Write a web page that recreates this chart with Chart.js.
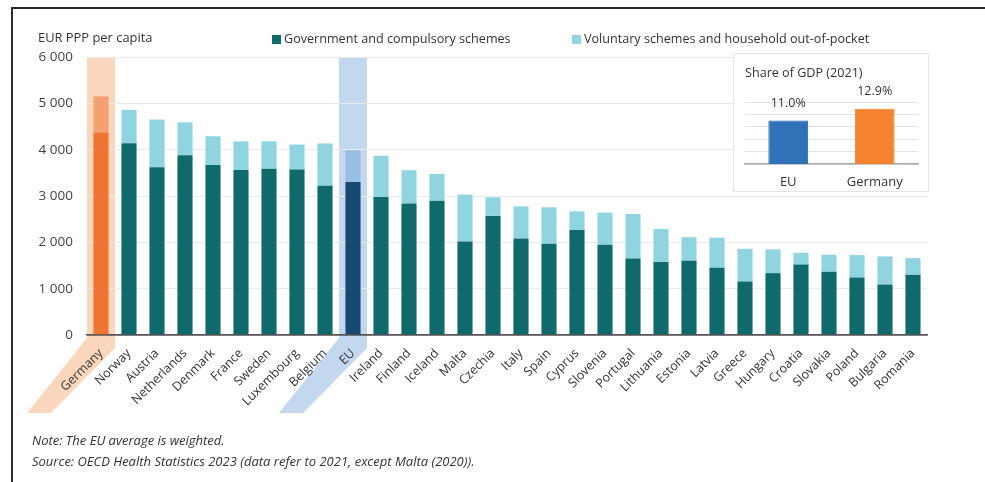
<!DOCTYPE html>
<html>
<head>
<meta charset="utf-8">
<script src="https://cdn.jsdelivr.net/npm/chart.js@4.4.1/dist/chart.umd.min.js"></script>
<style>
  body { margin: 0; background: #fff; font-family: "Open Sans", sans-serif; color: #333; }
  #wrap { position: relative; width: 985px; height: 482px; overflow: hidden; }
  .line { position: absolute; background: #2b2b2b; z-index: 5; }
  #main { position: absolute; left: 0; top: 0; }
  .txt { position: absolute; font-size: 12.6px; white-space: nowrap; color: #333; }
  .sq { display: inline-block; width: 9px; height: 9px; margin-right: 3px; vertical-align: -1px; }
  #inset { position: absolute; left: 733px; top: 53px; width: 196px; height: 139px; border: 1px solid #e4e4e4; box-sizing: border-box; background: #fff; }
  #insetChart { position: absolute; left: 0; top: 0; }
  .note { position: absolute; left: 32px; font-size: 13px; font-style: italic; color: #333; white-space: nowrap; }
</style>
</head>
<body>
<div id="wrap">
  <div class="line" style="left:11px;top:7px;width:974px;height:2px;"></div>
  <div class="line" style="left:11px;top:7px;width:2px;height:475px;"></div>
  <canvas id="main" width="985" height="482"></canvas>
  <div class="txt" style="left:38px;top:28px;font-size:12.9px;">EUR PPP per capita</div>
  <div class="txt" style="left:272px;top:30px;"><span class="sq" style="background:#0f6b6b"></span>Government and compulsory schemes</div>
  <div class="txt" style="left:572px;top:30px;"><span class="sq" style="background:#8fd4e0"></span>Voluntary schemes and household out-of-pocket</div>
  <div id="inset">
    <canvas id="insetChart" width="194" height="137"></canvas>
    <div class="txt" style="left:11px;top:10px;">Share of GDP (2021)</div>
  </div>
  <div class="note" style="top:431px;">Note: The EU average is weighted.</div>
  <div class="note" style="top:452px;">Source: OECD Health Statistics 2023 (data refer to 2021, except Malta (2020)).</div>
</div>
<script>
'use strict';

const COUNTRIES = ['Germany', 'Norway', 'Austria', 'Netherlands', 'Denmark', 'France', 'Sweden', 'Luxembourg', 'Belgium', 'EU',
  'Ireland', 'Finland', 'Iceland', 'Malta', 'Czechia', 'Italy', 'Spain', 'Cyprus', 'Slovenia', 'Portugal',
  'Lithuania', 'Estonia', 'Latvia', 'Greece', 'Hungary', 'Croatia', 'Slovakia', 'Poland', 'Bulgaria', 'Romania'];

const GOVERNMENT = [4370, 4140, 3620, 3880, 3670, 3560, 3590, 3570, 3220, 3300,
  2980, 2840, 2900, 2020, 2570, 2085, 1970, 2266, 1948, 1652,
  1573, 1600, 1450, 1154, 1335, 1522, 1364, 1241, 1089, 1299];

const VOLUNTARY = [780, 720, 1030, 710, 620, 620, 590, 540, 915, 685,
  890, 716, 577, 1010, 402, 692, 786, 403, 693, 960,
  717, 510, 650, 707, 512, 253, 368, 484, 607, 360];

const Y_TICKS = [0, 1000, 2000, 3000, 4000, 5000, 6000];

const GDP_LABELS = ['EU', 'Germany'];
const GDP_SHARE = [11.0, 12.9];

const TEAL = '#0f6b6b';
const CYAN = '#8fd4e0';

const HIGHLIGHT = {
  Germany: { gov: '#f07533', vol: '#f3a16f', band: 'rgba(247, 196, 160, 0.7)' },
  EU: { gov: '#154a72', vol: '#96bfe2', band: 'rgba(170, 198, 232, 0.7)' },
};

const govColors = COUNTRIES.map(c => HIGHLIGHT[c] ? HIGHLIGHT[c].gov : TEAL);
const volColors = COUNTRIES.map(c => HIGHLIGHT[c] ? HIGHLIGHT[c].vol : CYAN);

function fmtThousands(v) {
  if (v === 0) return '0';
  return (v / 1000) + ' 000';
}

// shaded bands behind Germany and EU that run down under their labels
const bandPlugin = {
  id: 'bands',
  beforeDraw(chart) {
    const { ctx, scales: { x, y } } = chart;
    const step = x.getPixelForValue(1) - x.getPixelForValue(0);
    const top = y.getPixelForValue(6000);
    const base = y.getPixelForValue(0);
    ctx.save();
    COUNTRIES.forEach((c, i) => {
      if (!HIGHLIGHT[c]) return;
      const cx = x.getPixelForValue(i);
      const L = cx - step / 2;
      const R = cx + step / 2;
      ctx.fillStyle = HIGHLIGHT[c].band;
      ctx.beginPath();
      ctx.moveTo(L, top);
      ctx.lineTo(R, top);
      ctx.lineTo(R, base + 13);
      ctx.lineTo(R - 64, 413);
      ctx.lineTo(L - 60, 413);
      ctx.lineTo(L, base + 3);
      ctx.closePath();
      ctx.fill();
    });
    ctx.restore();
  },
};

new Chart(document.getElementById('main'), {
  type: 'bar',
  data: {
    labels: COUNTRIES,
    datasets: [
      { label: 'Government and compulsory schemes', data: GOVERNMENT, backgroundColor: govColors, stack: 'a' },
      { label: 'Voluntary schemes and household out-of-pocket', data: VOLUNTARY, backgroundColor: volColors, stack: 'a' },
    ],
  },
  options: {
    responsive: false,
    animation: false,
    layout: { padding: { top: 57, right: 58, left: 0, bottom: 0 } },
    datasets: { bar: { categoryPercentage: 1, barPercentage: 0.54 } },
    plugins: { legend: { display: false }, tooltip: { enabled: false } },
    scales: {
      x: {
        stacked: true,
        grid: { display: false },
        border: { display: true, color: '#555', width: 1.5 },
        ticks: {
          autoSkip: false, maxRotation: 45, minRotation: 45, padding: 3,
          color: '#333', font: { family: 'Open Sans', size: 12.5 },
        },
        afterFit: s => { s.height = 147; },
      },
      y: {
        stacked: true,
        min: 0, max: 6000,
        afterBuildTicks: s => { s.ticks = Y_TICKS.map(v => ({ value: v })); },
        grid: {
          drawTicks: false,
          color: c => c.tick && c.tick.value === 0 ? '#555' : '#e9e9e9',
          lineWidth: c => c.tick && c.tick.value === 0 ? 1.5 : 1,
        },
        border: { display: false },
        ticks: {
          padding: 14, color: '#444', font: { family: 'Open Sans', size: 13.5 },
          callback: v => fmtThousands(v),
        },
        afterFit: s => { s.width = 87; },
      },
    },
  },
  plugins: [bandPlugin],
});

const valueLabels = {
  id: 'valueLabels',
  afterDatasetsDraw(chart) {
    const { ctx } = chart;
    const meta = chart.getDatasetMeta(0);
    ctx.save();
    ctx.font = '12.5px "Open Sans"';
    ctx.fillStyle = '#333';
    ctx.textAlign = 'center';
    ctx.textBaseline = 'middle';
    meta.data.forEach((bar, i) => {
      ctx.fillText(GDP_SHARE[i].toFixed(1) + '%', bar.x, bar.y - 17);
    });
    ctx.restore();
  },
};

new Chart(document.getElementById('insetChart'), {
  type: 'bar',
  data: {
    labels: GDP_LABELS,
    datasets: [{ data: GDP_SHARE, backgroundColor: ['#2f72b8', '#f5822f'], borderColor: ['#2a66a6', '#ef7a28'], borderWidth: 1 }],
  },
  options: {
    responsive: false,
    animation: false,
    layout: { padding: { top: 48, right: 10, left: 0, bottom: 0 } },
    datasets: { bar: { categoryPercentage: 1, barPercentage: 0.46 } },
    plugins: { legend: { display: false }, tooltip: { enabled: false } },
    scales: {
      x: {
        grid: { display: false },
        border: { display: true, color: '#aaa', width: 1.5 },
        ticks: { padding: 2, color: '#333', font: { family: 'Open Sans', size: 13 } },
        afterFit: s => { s.height = 27; },
      },
      y: {
        min: 4, max: 14,
        ticks: { display: false, stepSize: 2 },
        grid: { drawTicks: false, color: '#e2e2e2' },
        border: { display: false },
        afterFit: s => { s.width = 11; },
      },
    },
  },
  plugins: [valueLabels],
});
</script>
</body>
</html>
